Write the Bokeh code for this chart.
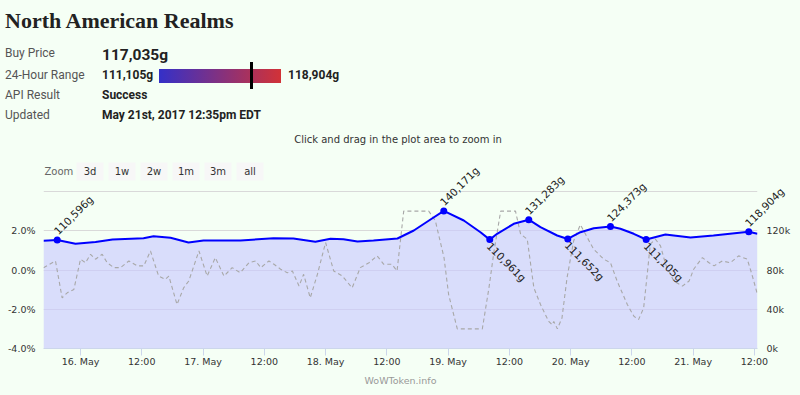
import math
from bokeh.plotting import figure
from bokeh.models import (Range1d, LinearAxis, FixedTicker, ColumnDataSource, LabelSet,
                          Div, GlobalInlineStyleSheet)
from bokeh.layouts import column
from bokeh.core.properties import value
from bokeh.embed import file_html
from bokeh.resources import INLINE

try:
    from bokeh.models import HTMLLabelSet as DataLabels
except ImportError:
    DataLabels = LabelSet

BG = "#f5fff5"

# ---------------- data ----------------
title_text = "North American Realms"
info_labels = ["Buy Price", "24-Hour Range", "API Result", "Updated"]
buy_price = 117035
range_low = 111105
range_high = 118904
api_result = "Success"
updated_text = "May 21st, 2017 12:35pm EDT"
subtitle_text = "Click and drag in the plot area to zoom in"
zoom_buttons = ["3d", "1w", "2w", "1m", "3m", "all"]
footer_text = "WoWToken.info"

# hours relative to 16 May 00:00
price_h = [-7.25, -4.56, -0.98, 2.94, 6.27, 12.34, 14.3, 17.63, 21.15, 24.09,
           31.34, 37.8, 41.7, 46.0, 48.97, 51.5, 54.25, 57.38, 62.08, 65.28,
           68.55, 71.15, 75.07, 78.34, 80.16, 81.6, 84.86, 87.8, 90.09, 93.36,
           95.44, 97.92, 100.53, 103.8, 105.75, 108.36, 110.79, 114.57, 119.47,
           123.97, 130.89, 132.58]
price_v = [109760, 110596, 106700, 108500, 111080, 112400, 114450, 112800, 108000, 110060,
           110060, 112400, 112100, 108740, 111800, 111390, 109040, 110060, 112100, 120250,
           131460, 140171, 130450, 118520, 110961, 116890, 127080, 131283, 123620, 115160,
           111652, 118520, 122600, 124373, 121990, 116890, 111105, 116180, 113120,
           115160, 118904, 117035]

pct_h = [-7.25, -4.9, -3.6, -2.6, -1.3, 0.0, 0.98, 1.96, 2.94, 4.24, 5.22, 6.53, 7.83,
         9.47, 11.1, 12.4, 13.7, 15.3, 16.6, 17.3, 18.9, 20.2, 21.2, 23.2, 24.8, 26.4,
         28.1, 29.7, 31.3, 33.0, 34.3, 35.3, 36.9, 37.9, 39.2, 40.5, 41.5, 42.8, 43.7,
         45.0, 46.4, 48.0, 49.6, 51.3, 53.2, 54.8, 56.5, 58.1, 59.4, 61.0, 62.0, 63.3,
         68.2, 69.5, 71.2, 72.1, 73.8, 78.7, 80.0, 81.0, 82.3, 85.2, 86.2, 87.5, 88.8,
         90.1, 91.7, 92.4, 92.7, 93.4, 94.3, 95.3, 96.6, 97.9, 98.9, 100.5, 102.5, 103.8,
         105.1, 107.1, 108.4, 109.3, 110.3, 111.0, 111.6, 112.6, 113.6, 114.6, 116.2,
         117.9, 119.2, 120.1, 121.8, 123.1, 124.1, 125.7, 127.3, 128.9, 130.6, 131.5, 132.5]
pct_v = [0.12, 0.46, -1.42, -1.16, -0.99, 0.55, 0.37, 0.8, 0.55, 0.8, 0.37, 0.12, 0.12,
         0.46, 0.21, 0.21, 0.97, -0.31, -0.48, -0.31, -1.76, -0.91, -0.56, 0.97, -0.31, 0.63,
         -0.31, 0.12, -0.14, 0.37, 0.46, 0.12, 0.46, 0.29, 0.04, -0.14, -0.05, -0.82, -0.22,
         -1.42, -0.22, 1.4, -0.05, -0.31, -0.91, 0.12, 0.37, 0.72, 0.29, 0.29, -0.05, 3.0,
         3.0, 2.51, 0.63, -1.25, -3.0, -3.0, -0.91, 0.97, 3.0, 3.0, 1.83, 1.57, -0.91,
         -1.76, -2.62, -2.79, -2.62, -3.0, -2.45, -0.39, 1.49, 2.31, 1.83, 1.06, 0.55, 0.37,
         -0.56, -1.76, -2.36, -2.53, -1.93, -0.22, 1.32, 1.57, 1.23, 0.29, -0.56, -0.82,
         -0.56, 0.04, 0.63, 0.37, 0.21, 0.46, 0.37, 0.72, 0.55, -0.22, -1.16]

peak_h = [-4.56, 71.15, 87.8, 103.8, 130.89]
peak_v = [110596, 140171, 131283, 124373, 118904]
trough_h = [80.16, 95.44, 110.79]
trough_v = [110961, 111652, 111105]

x_tick_hours = [0, 12, 24, 36, 48, 60, 72, 84, 96, 108, 120, 132]
x_tick_labels = ["16. May", "12:00", "17. May", "12:00", "18. May", "12:00",
                 "19. May", "12:00", "20. May", "12:00", "21. May", "12:00"]
pct_ticks = [-4, -2, 0, 2]
pct_tick_labels = ["-4.0%", "-2.0%", "0.0%", "2.0%"]
grid_ticks = [-4, -2, 0, 2, 4]
price_ticks = [0, 40000, 80000, 120000]
price_tick_labels = ["0k", "40k", "80k", "120k"]

FONT = "DejaVu Sans"


def g(v):
    return f"{v:,}g"


def span(x, top, text, size, font="Roboto", color="#222222", weight="normal",
         extra=""):
    return (f'<span style="position:absolute;left:{x}px;top:{top}px;'
            f"font-family:'{font}';font-size:{size}px;line-height:1;color:{color};"
            f'font-weight:{weight};white-space:nowrap;{extra}">{text}</span>')


# ---------------- header (HTML) ----------------
parts = [span(5, 10.1, title_text, 22, font="Liberation Serif", weight="bold")]
for top, t in zip([46.9, 69.4, 89.4, 109.4], info_labels):
    parts.append(span(5, top, t, 12, color="#555555"))
parts.append(span(102, 47.5, g(buy_price), 15.5, weight="bold"))
for x, top, t in zip([102, 288, 102, 102], [69.4, 69.4, 89.4, 109.4],
                     [g(range_low), g(range_high), api_result, updated_text]):
    parts.append(span(x, top, t, 12, weight="bold"))
bx0, bx1 = 159, 281
parts.append(f'<div style="position:absolute;left:{bx0}px;top:69px;width:{bx1 - bx0}px;'
             f'height:14px;background:linear-gradient(to right,#3430c8,#d23237);"></div>')
mx = bx0 + (bx1 - bx0) * (buy_price - range_low) / (range_high - range_low)
parts.append(f'<div style="position:absolute;left:{mx - 1.5:.1f}px;top:62px;width:3px;'
             f'height:27px;background:#000;"></div>')
parts.append(span(248, 135, subtitle_text, 10, font=FONT, color="#333333",
                  extra="width:300px;text-align:center;"))
header = Div(text=f'<div style="position:relative;width:800px;height:150px;'
                  f'background:{BG};overflow:visible;">{"".join(parts)}</div>',
             width=800, height=150, margin=0)

# ---------------- main chart ----------------
FRAME_TOP, FRAME_BOTTOM = 150, 348
FRAME_H = FRAME_BOTTOM - FRAME_TOP
pct_top = -4 + FRAME_H * 8 / 157
price_top = FRAME_H * 160000 / 157

p = figure(width=800, height=222, x_range=Range1d(-7.25, 132.6),
           y_range=Range1d(-4, pct_top), toolbar_location=None, output_backend="svg",
           min_border_left=43, min_border_right=43, min_border_top=0,
           min_border_bottom=222 - FRAME_H, title=None, margin=0)
p.outline_line_color = None
p.background_fill_color = BG
p.border_fill_color = BG
p.extra_y_ranges = {"price": Range1d(0, price_top),
                    "py": Range1d(FRAME_BOTTOM, FRAME_TOP)}
p.extra_x_ranges = {"px": Range1d(43, 757)}

p.xgrid.visible = False
p.ygrid.ticker = FixedTicker(ticks=grid_ticks)
p.ygrid.grid_line_color = "#d9d9d9"

xa = p.xaxis[0]
xa.ticker = FixedTicker(ticks=x_tick_hours)
xa.major_label_overrides = dict(zip(x_tick_hours, x_tick_labels))
xa.axis_line_color = "#ccd6eb"
xa.major_tick_line_color = "#ccd6eb"
xa.major_tick_out = 7
xa.major_tick_in = 0
xa.minor_tick_line_color = None
xa.major_label_standoff = 0
xa.major_label_text_font = FONT
xa.major_label_text_font_size = "9.5px"
xa.major_label_text_color = "#333333"

ya = p.yaxis[0]
ya.ticker = FixedTicker(ticks=pct_ticks)
ya.major_label_overrides = dict(zip(pct_ticks, pct_tick_labels))
ya.axis_line_color = None
ya.major_tick_line_color = None
ya.minor_tick_line_color = None
ya.major_label_standoff = 2
ya.major_label_text_font = FONT
ya.major_label_text_font_size = "9.5px"
ya.major_label_text_color = "#333333"

ra = LinearAxis(y_range_name="price", ticker=FixedTicker(ticks=price_ticks),
                major_label_overrides=dict(zip(price_ticks, price_tick_labels)),
                axis_line_color=None, major_tick_line_color=None, minor_tick_line_color=None,
                major_label_standoff=3, major_label_text_font=FONT,
                major_label_text_font_size="9.5px", major_label_text_color="#333333")
p.add_layout(ra, "right")

# series
p.varea(x=price_h, y1=0, y2=price_v, y_range_name="price", fill_color="#c8c8ff",
        fill_alpha=0.62)
p.line(pct_h, pct_v, line_color="#a8a8a8", line_width=1.1, line_dash="4 3")
p.line(price_h, price_v, y_range_name="price", line_color="#0000ff", line_width=2)
p.scatter(peak_h + trough_h, peak_v + trough_v, y_range_name="price", size=7,
          fill_color="#0000ff", line_color=None)

# zoom buttons
bl = [76 + 32 * i for i in range(len(zoom_buttons))]
p.quad(left=bl, right=[b + 27 for b in bl], top=162, bottom=180, fill_color="#f7f7f7",
       line_color=None, x_range_name="px", y_range_name="py")
p.text(x=[b + 13.5 for b in bl], y=[171] * len(bl), text=zoom_buttons,
       x_range_name="px", y_range_name="py", text_font=value(FONT), text_font_size="10px",
       text_color="#333333", text_align="center", text_baseline="middle")
p.text(x=[44], y=[171], text=["Zoom"], x_range_name="px", y_range_name="py",
       text_font=value(FONT), text_font_size="10px", text_color="#666666",
       text_baseline="middle")

# data labels
peak_src = ColumnDataSource(dict(x=peak_h, y=peak_v, t=[g(v) for v in peak_v]))
trough_src = ColumnDataSource(dict(x=trough_h, y=trough_v, t=[g(v) for v in trough_v]))
p.add_layout(DataLabels(x="x", y="y", text="t", source=peak_src, y_range_name="price",
                        angle=math.pi / 4, x_offset=3, y_offset=2,
                        text_font=value(FONT), text_font_size="10.5px",
                        text_color="#222222", text_baseline="bottom", text_align="left"))
p.add_layout(DataLabels(x="x", y="y", text="t", source=trough_src, y_range_name="price",
                        angle=-math.pi / 4, x_offset=4, y_offset=-1,
                        text_font=value(FONT), text_font_size="10.5px",
                        text_color="#222222", text_baseline="top", text_align="left"))

# ---------------- footer (HTML) ----------------
footer = Div(text=f'<div style="position:relative;width:800px;height:23px;background:{BG};">'
                  + span(0, 4, footer_text, 9.5, font=FONT, color="#999999",
                         extra="width:801px;text-align:center;") + '</div>',
             width=800, height=23, margin=0)

layout = column(header, p, footer, spacing=0, margin=0)
layout.stylesheets = [GlobalInlineStyleSheet(
    css=f"html, body {{ margin: 0 !important; padding: 0 !important; background: {BG}; }}")]

open("out.html", "w").write(file_html(layout, INLINE))
